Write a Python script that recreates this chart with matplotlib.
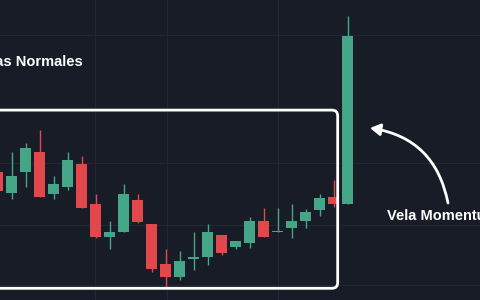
import matplotlib.pyplot as plt
from matplotlib.patches import FancyBboxPatch, FancyArrowPatch

# candle data (price units)
idx    = list(range(-1, 25))
opens  = [128, 107.3, 127.7, 148, 105.7, 113.3, 135.7, 95.7, 63.3, 67.7, 100, 75.7, 35.7,
          22.7, 41.3, 43.3, 65, 53.3, 57.3, 79.3, 67.7, 71.7, 79.3, 90, 103.3, 96]
closes = [109, 123.7, 151.7, 103.3, 115.7, 140, 91.7, 63, 67.7, 105.7, 77.7, 31.3, 23.3,
          39, 43.3, 67.7, 46.7, 59.3, 79.3, 63.3, 68.5, 79.3, 87.7, 101.7, 95.7, 264]
highs  = [132, 148.3, 156.7, 170, 124, 148.3, 144, 105.7, 79.3, 115.7, 105.7, 75.7, 51,
          49, 67.7, 75.7, 65, 59.3, 83.3, 92.3, 92.3, 96, 90.7, 105.7, 120, 284]
lows   = [106, 100.7, 112.7, 103.3, 100.7, 110, 91.7, 61.7, 51, 67.7, 76.7, 28.3, 13.3,
          20, 30, 35, 45, 51, 52.3, 63.3, 67.7, 62.3, 72.3, 84.3, 93.3, 96]

bg = '#181c27'
green = '#45a587'
red = '#e2474b'

fig = plt.figure(figsize=(4.8, 3), dpi=100, facecolor=bg)
ax = fig.add_axes([0, 0, 1, 1])
ax.set_facecolor(bg)
ax.set_xlim(-0.836, 33.45)
ax.set_ylim(0, 300)
ax.axis('off')

# faint grid
for y in [265, 137, 75, 15]:
    ax.axhline(y, color='#232735', lw=0.8, zorder=0)
for x in [5.95, 11.1, 19]:
    ax.axvline(x, color='#232735', lw=0.8, zorder=0)

for i, o, c, h, l in zip(idx, opens, closes, highs, lows):
    col = green if c >= o else red
    ax.vlines(i, l, h, color=col, lw=1, zorder=2)
    body = max(abs(c - o), 1.8)
    ax.bar(i, body, bottom=min(o, c), width=0.78, color=col, zorder=3)

# white rounded box around normal candles
box = FancyBboxPatch((-0.03, 0.039), 0.7335, 0.594, boxstyle='round,pad=0,rounding_size=0.012',
                     transform=ax.transAxes, mutation_aspect=1.6,
                     fill=False, ec='white', lw=2, zorder=4)
ax.add_patch(box)

ax.text(83 / 480, 1 - 62 / 300, 'Velas Normales', transform=ax.transAxes, ha='right', va='center',
        color='white', fontsize=10.5, fontweight='bold', family='Liberation Sans')
ax.text(387 / 480, 1 - 216 / 300, 'Vela Momentum', transform=ax.transAxes, ha='left', va='center',
        color='white', fontsize=10.5, fontweight='bold', family='Liberation Sans')

arrow = FancyArrowPatch((448 / 480, 1 - 203 / 300), (370 / 480, 1 - 128 / 300),
                        transform=ax.transAxes, connectionstyle='arc3,rad=0.35',
                        arrowstyle='-|>,head_length=6,head_width=3.5', color='white', lw=2,
                        shrinkA=0, shrinkB=0, zorder=5)
ax.add_patch(arrow)

fig.savefig('out.png', dpi=100, facecolor=bg)
